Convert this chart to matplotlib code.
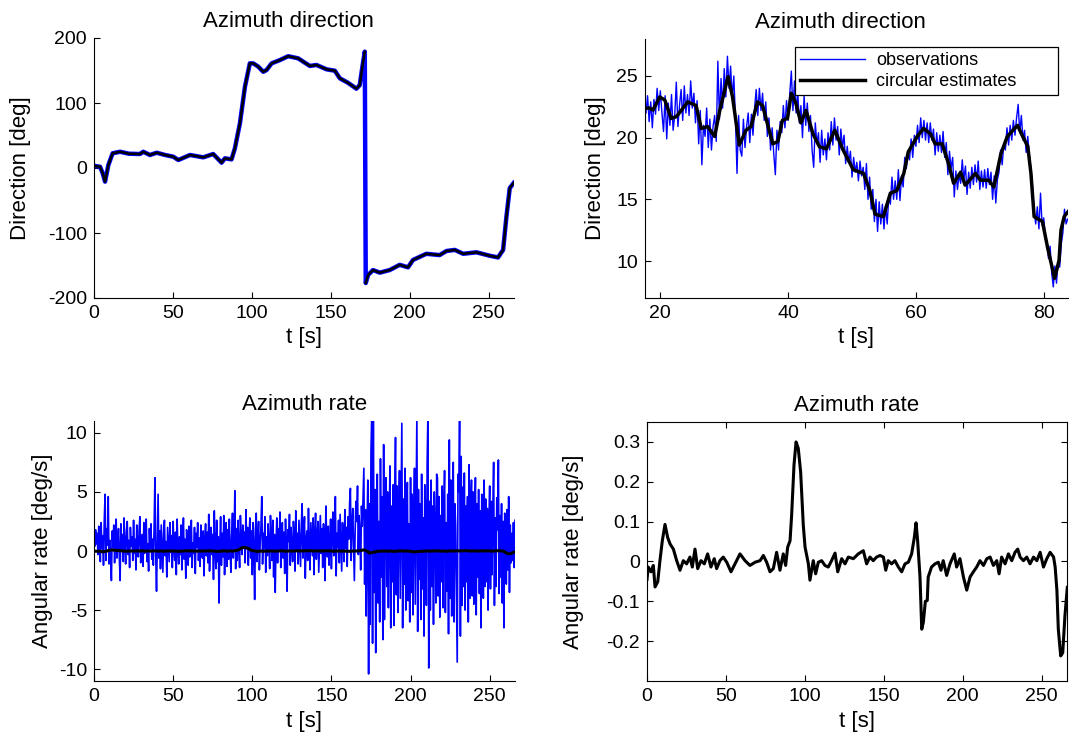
import numpy as np
import matplotlib
matplotlib.use("Agg")
import matplotlib.pyplot as plt

plt.rcParams['font.family'] = ['Liberation Sans', 'DejaVu Sans']
plt.rcParams['axes.unicode_minus'] = False

# ---------------- data ----------------
# Full azimuth direction (deg) vs time (s)
dir_t = [0.0, 0.6, 3.8, 5.5, 7.0, 9.1, 11.8, 16.5, 22.0, 29.1, 31.2, 35.4, 39.7, 45.0, 50.2, 53.4,
         60.8, 69.2, 75.5, 80.8, 82.9, 87.1, 89.2, 92.4, 95.6, 98.7, 100.8, 104.0, 107.2, 109.3,
         112.5, 117.7, 123.0, 129.3, 136.7, 140.9, 147.3, 152.5, 155.7, 160.9, 166.2, 168.3, 170.0,
         171.5, 172.1, 173.6, 176.7, 181.0, 187.3, 193.6, 198.9, 202.0, 210.5, 218.9, 223.2, 228.5,
         233.8, 242.2, 250.6, 255.9, 259.1, 261.2, 263.3, 265.8]
dir_val = [4, 3, 2, -8, -21, 4.6, 22.6, 25, 22, 21.5, 25, 20, 23.5, 20, 17.4, 12.3,
           20, 16.4, 21.5, 8.2, 14.9, 13.3, 30, 68.5, 125, 161, 161, 156, 148, 150.8,
           161, 166, 172, 168.7, 157, 158.5, 151.8, 149.7, 138, 131, 122, 127.5, 156,
           179, -177, -164.6, -157, -161, -157, -149, -152.8, -141.5, -132, -134, -127.7, -126,
           -132, -129.7, -135, -137.6, -126, -75, -31, -23]

# Zoomed direction: circular estimates (deg)
est_t = [17.6, 18.3, 18.86, 19.9, 20.7, 21.7, 22.5, 24.3, 25.6, 26.4, 27.4, 28.5, 29.3, 30.6, 31.3,
         32.35, 33.4, 34.2, 35.2, 36.0, 37.6, 38.4, 39.1, 39.9, 40.5, 41.2, 42.0, 42.8, 43.9, 44.9,
         46.0, 47.3, 48.6, 50.2, 51.8, 52.8, 53.6, 54.9, 56.0, 57.0, 58.1, 58.8, 60.2, 61.2, 62.3,
         63.0, 64.1, 65.1, 65.9, 67.0, 67.7, 69.3, 70.1, 71.4, 72.2, 73.3, 74.3, 75.9, 76.7, 77.5,
         78.0, 78.5, 79.8, 80.6, 81.7, 82.4, 82.7, 83.2, 83.8]
est_val = [22.4, 22.4, 22.24, 23.3, 23.05, 21.56, 21.7, 22.9, 22.6, 20.75, 20.9, 20.1, 22.2, 24.95, 23.3,
           19.4, 20.6, 20.9, 22.9, 22.6, 19.5, 19.7, 21.4, 21.56, 23.6, 22.8, 21.2, 22.2, 20.3, 19.26,
           19.1, 20.6, 19.0, 17.4, 17.1, 15.7, 13.8, 13.6, 15.5, 15.7, 17.1, 18.85, 20.1, 20.75, 20.3,
           19.5, 19.5, 17.9, 16.3, 17.2, 16.15, 17.1, 16.55, 16.55, 16.0, 18.7, 20.1, 21.0, 20.1, 19.3,
           17.1, 13.6, 13.2, 11.1, 8.6, 10.05, 12.5, 13.6, 14.0]

# Zoomed direction: observations (deg), every 0.25 s from 17.75 s
obs_t0 = 17.75
obs_dt = 0.25
obs_val = [22.0,
    23.4, 21.3, 22.9, 20.8, 23.1, 21.9, 24.0, 22.2, 23.8, 22.0, 20.5, 23.4, 19.9, 22.8, 21.0, 23.5,
    20.6, 21.8, 24.5, 20.9, 22.6, 23.9, 21.4, 24.2, 22.0, 23.5, 21.8, 24.6, 22.4, 23.6, 21.2, 23.0,
    19.5, 22.2, 17.8, 21.0, 20.1, 22.4, 19.2, 21.5, 19.0, 20.9, 21.8, 19.7, 26.2, 21.5, 24.8, 22.4,
    25.6, 23.3, 26.6, 24.0, 25.8, 23.2, 25.0, 21.6, 17.1, 21.8, 19.0, 18.5, 21.5, 19.2, 20.9, 22.0,
    19.6, 21.9, 20.2, 22.4, 23.9, 21.8, 24.0, 22.2, 23.6, 21.4, 22.9, 20.1, 21.6, 19.0, 20.8, 18.7,
    17.0, 20.6, 19.0, 21.3, 20.4, 22.6, 20.8, 23.0, 21.4, 23.5, 25.4, 22.2, 24.6, 22.0, 23.8, 21.2,
    22.6, 20.0, 23.4, 21.0, 22.8, 20.5, 21.8, 19.0, 17.6, 21.2, 19.5, 20.4, 18.0, 20.6, 18.6, 19.9,
    18.2, 20.4, 19.0, 21.3, 19.4, 21.6, 19.8, 20.9, 18.6, 20.7, 19.2, 20.2, 17.9, 19.3, 18.0, 18.9,
    16.8, 18.4, 17.2, 18.0, 16.5, 18.1, 16.9, 17.6, 15.8, 17.9, 15.0, 16.8, 14.2, 15.8, 13.2, 15.0,
    12.4, 14.8, 13.0, 14.6, 12.6, 14.5, 13.0, 15.2, 14.6, 16.8, 15.0, 16.5, 15.0, 17.4, 14.9, 16.9,
    16.0, 18.4, 17.5, 18.8, 18.2, 19.9, 18.4, 20.2, 19.3, 21.0, 19.6, 21.6, 20.0, 21.4, 19.8, 21.2,
    19.6, 21.2, 19.8, 20.7, 18.6, 20.4, 18.9, 20.2, 18.8, 20.5, 18.4, 19.6, 17.0, 18.9, 17.5, 18.4,
    15.2, 17.3, 15.8, 17.0, 16.3, 18.2, 16.6, 17.7, 15.4, 17.2, 15.9, 17.6, 16.2, 17.8, 16.4, 18.1,
    15.8, 17.3, 16.0, 17.4, 15.9, 17.5, 16.2, 17.2, 15.0, 16.9, 14.7, 16.6, 17.2, 19.0, 17.8, 19.5,
    19.0, 20.8, 19.4, 21.0, 19.8, 21.4, 20.2, 21.6, 22.7, 20.4, 21.8, 19.8, 20.6, 18.8, 20.1, 18.6,
    17.5, 16.0, 14.0, 13.0, 14.4, 12.6, 15.5, 12.9, 13.5, 12.0, 11.5, 10.2, 11.2, 9.0, 7.9, 9.6,
    8.2, 10.0, 9.5, 11.4, 12.3, 14.2, 13.0, 13.4]

# Angular rate observations (deg/s), every 0.5 s from 0 s
rate_obs_dt = 0.5
rate_obs = [
    1.2, 0.4, 1.8, 0.6, 1.5, -0.3, 2.1, 0.8, -0.9, 2.4, 0.2, 1.3, -1.2, 2.6, 4.8, -0.8, 1.9, 0.5, 4.6, -1.1,
    0.9, -0.4, -2.5, 1.7, 0.3, 2.2, -1.0, 1.1, 2.7, -0.6, 0.8, 1.9, -0.5, -2.5, 2.3, 0.1, 1.4, -0.9, 2.8, 0.6,
    -1.1, 1.6, 2.5, -0.3, 0.9, -1.4, 2.0, 0.4, 1.2, -0.8, 2.6, -0.2, 1.0, -1.6, 2.2, 0.7, -0.5, 1.8, 2.9, -1.0,
    0.5, 1.4, -1.3, 2.4, -0.2, 1.1, 2.7, -0.9, 0.6, -1.7, 1.9, 0.2, 2.3, -0.7, 1.0, -1.2, 2.1, 6.2, -0.4, -3.4,
    1.0, 4.8, -0.6, 1.7, -1.5, 2.2, 0.3, -1.8, 1.5, 2.6, -0.4, 0.8, -2.2, 2.0, 0.5, -0.9, 2.4, -0.1, 1.3, -1.4,
    2.5, 0.2, -0.8, 1.6, -2.0, 2.7, 0.4, -1.1, 1.2, -0.3, 2.2, -1.6, 0.9, 2.8, -0.7, 1.0, -2.3, 1.8, 0.6, -1.2,
    2.1, -0.5, 1.3, 2.6, -1.4, 0.7, -0.2, 2.0, -1.9, 1.5, 0.3, 2.4, -0.8, 1.1, -1.3, 2.2, 0.5, -0.6, 1.7, -2.1,
    1.0, 2.3, -0.4, 1.6, -1.0, 3.1, -1.7, 0.8, 2.0, -0.3, 1.4, -2.4, 3.4, 0.1, -1.5, 2.6, -0.9, 1.2, -4.4, 0.6,
    2.9, -1.2, 1.5, -0.5, 3.0, -2.0, 0.9, 2.4, -1.3, 1.8, -0.7, 2.7, 0.2, -1.8, 1.3, 3.2, -0.6, 1.0, 5.1, -1.5,
    1.9, -0.8, 2.6, 0.4, -1.4, 3.0, 1.1, -0.3, 2.2, 0.5, 1.6, -1.0, 3.5, 0.2, 2.0, -1.2, 1.3, 2.8, -0.6, 1.7,
    -2.0, 2.4, 0.3, -4.1, 1.8, 3.2, -0.9, 1.0, 2.5, -1.6, 0.7, 2.1, 4.6, -1.1, 1.5, 0.2, 2.9, -1.8, 1.2, -0.4,
    2.3, 0.6, -1.5, 3.0, 0.9, -0.8, 2.6, -2.2, 1.4, -3.5, 0.5, 2.8, -1.0, 1.9, 0.1, 3.3, -1.4, 1.1, 2.4, -0.6,
    1.6, -1.9, 2.7, 0.3, -3.4, 1.8, 0.8, 3.1, -1.2, 2.0, 0.4, -0.9, 2.5, 1.2, -1.7, 3.4, 0.0, 1.5, -1.1, 2.6,
    0.7, -1.3, 2.2, 4.0, -0.6, 1.4, 2.9, -2.3, 0.9, 1.7, -0.8, 3.6, 0.5, -1.6, 2.4, 1.0, -0.4, 2.8, -2.0, 1.3,
    3.2, -0.7, 1.1, 2.5, -1.8, 0.6, 3.0, -0.2, 1.9, -1.4, 2.3, 0.8, -2.5, 3.8, 1.2, -0.5, 2.1, -1.2, 0.9, 2.7,
    -1.5, 1.8, 3.3, -0.4, 1.0, 4.6, -2.1, 1.5, 0.3, 2.6, -1.0, 3.1, 0.6, -1.7, 2.4, 1.1, -0.9, 3.5, 0.2, 2.0,
    -1.3, 2.9, 1.0, 4.0, 5.3, -0.8, 2.2, 3.6, 0.4, -2.5, 1.7, 4.2, 2.5, 5.5, -0.3, 3.0, 1.4, -1.6, 3.8, 2.1,
    4.5, 7.0, -2.8, 3.5, -5.5, 2.0, 6.0, -10.4, 4.0, -6.2, 8.5, 11.5, -7.8, 12.0, -3.5, 5.2, -8.6, 3.0, 6.5, -4.4,
    2.5, -6.0, 7.8, -2.2, 4.6, -7.5, 9.0, -5.8, 3.4, 6.2, -3.0, 5.0, -4.8, 2.0, 7.2, -6.5, 3.8, -2.6, 5.6, -6.3,
    4.2, 9.6, -3.7, 5.5, -5.2, 2.7, 6.8, -4.0, 3.5, 10.8, -6.5, 4.4, -2.8, 7.0, -5.0, 3.2, 5.8, -4.2, 2.3, -6.0,
    6.2, -3.5, 4.8, -5.4, 2.6, 7.0, -4.5, 3.0, 11.5, -6.8, 5.2, -2.4, 4.0, -5.8, 6.5, -3.2, 2.8, -7.2, 5.6, 3.4,
    -4.6, 7.5, 12.0, -9.9, 4.2, -5.0, 6.0, -3.0, 3.8, -6.2, 5.0, 2.0, -4.4, 6.5, 6.2, -3.8, 4.6, -5.6, 3.0, -2.6,
    5.5, -4.8, 3.6, 6.8, -5.2, 2.4, -3.4, 4.8, -7.0, 9.4, -4.0, 6.0, -5.5, 3.2, 7.5, -6.0, 4.0, 2.2, -3.5, -9.4,
    6.5, 5.0, 12.0, -7.2, 8.0, -4.6, 5.4, -3.0, 6.6, -5.0, 3.8, -2.6, 4.6, -6.0, 7.3, -4.0, 3.0, 6.0, -3.8, 5.0,
    -4.5, 2.8, 6.2, -5.4, 4.0, -2.2, 5.2, -3.6, 3.4, -6.5, 4.8, 2.0, -4.0, 6.0, -3.0, 4.4, -2.6, 3.6, -5.0, 2.4,
    5.5, -3.2, 4.2, -2.0, 3.5, 7.5, -4.6, 2.8, -3.0, 4.5, 1.8, 7.7, -3.6, 3.0, -2.2, 4.0, -4.4, 2.5, -6.5, 3.2,
    2.0, -2.8, 3.5, -1.6, 4.6, -3.5, 2.2, -1.0, 1.5, -0.8, 2.4, -1.4, 2.6]

# Angular rate estimates (deg/s)
rate_t = [0.0, 0.8, 2.5, 4.0, 5.1, 6.8, 8.2, 9.7, 11.4, 13.1, 14.6, 16.7, 18.8, 20.9, 23.0, 25.1,
          27.2, 28.7, 30.4, 32.1, 34.2, 36.3, 38.4, 40.5, 42.6, 44.1, 46.2, 48.3, 50.5, 53.2, 55.7,
          58.9, 62.1, 65.2, 68.4, 71.6, 73.7, 75.8, 77.9, 80.0, 82.1, 84.2, 86.3, 87.8, 89.1, 90.6,
          91.6, 93.1, 94.4, 95.8, 97.3, 99.0, 100.1, 102.2, 103.2, 105.3, 106.8, 108.5, 110.6, 112.7,
          114.8, 116.9, 119.1, 120.8, 123.3, 125.4, 127.5, 130.7, 133.8, 137.0, 139.1, 141.2, 143.3,
          145.4, 147.6, 149.7, 151.2, 152.8, 154.9, 157.0, 159.2, 161.3, 163.4, 165.5, 167.6, 169.3,
          170.4, 171.4, 172.9, 174.0, 175.0, 176.3, 177.5, 178.1, 180.2, 182.4, 184.5, 186.2, 187.6,
          189.8, 191.9, 194.6, 196.1, 198.2, 200.4, 202.5, 204.6, 206.7, 208.8, 210.9, 213.1, 215.2,
          217.3, 219.4, 221.5, 223.0, 224.6, 226.8, 228.9, 231.0, 233.1, 234.8, 236.3, 238.4, 240.5,
          242.6, 244.8, 246.9, 249.0, 251.1, 253.2, 255.3, 257.5, 258.5, 259.6, 260.5, 262.0, 263.3,
          264.7, 266.2]
rate_val = [-0.045, -0.014, -0.026, -0.010, -0.064, -0.051, 0.002, 0.052, 0.093, 0.060, 0.044, 0.031,
            0.002, -0.022, 0.002, -0.006, 0.011, -0.014, 0.031, -0.018, 0.002, -0.006, 0.019, -0.014,
            0.007, -0.018, 0.002, 0.011, -0.002, -0.026, -0.006, 0.019, 0.002, -0.010, -0.002, 0.002,
            0.015, -0.002, -0.026, -0.018, 0.023, -0.022, 0.019, -0.010, 0.036, 0.052, 0.116, 0.242,
            0.300, 0.284, 0.225, 0.090, 0.036, -0.006, -0.047, 0.002, -0.031, -0.002, 0.002, -0.010,
            -0.014, 0.002, 0.021, -0.026, 0.007, -0.006, 0.011, 0.007, 0.019, 0.027, -0.006, 0.011,
            0.002, 0.011, 0.015, 0.011, -0.022, 0.002, -0.006, 0.002, -0.014, -0.026, -0.006, -0.002,
            0.019, 0.060, 0.097, 0.052, -0.039, -0.170, -0.153, -0.100, -0.098, -0.039, -0.014, -0.006,
            -0.002, -0.022, 0.002, -0.035, -0.006, 0.019, -0.014, 0.007, -0.039, -0.072, -0.039, -0.026,
            -0.014, 0.002, -0.010, 0.007, 0.011, -0.010, 0.002, -0.031, 0.011, -0.006, 0.019, 0.002,
            0.023, 0.031, 0.011, 0.002, 0.011, -0.006, 0.011, 0.002, 0.023, -0.014, 0.007, 0.023, 0.011,
            -0.014, -0.072, -0.170, -0.237, -0.229, -0.136, -0.065]

# ---------------- drawing ----------------
BLUE = (0.0, 0.0, 1.0)
TICK_FS = 14
LAB_FS = 16

fig = plt.figure(figsize=(10.69, 7.38), dpi=100)
W, H = 1069.0, 738.0

def make_ax(l, t, r, b):
    return fig.add_axes([l / W, 1 - b / H, (r - l) / W, (b - t) / H])

def style(ax, box=False):
    for s in ['top', 'right']:
        ax.spines[s].set_visible(box)
    for s in ax.spines.values():
        s.set_linewidth(0.8)
    ax.tick_params(direction='in', length=4, width=0.8, labelsize=TICK_FS,
                   top=box, right=box, pad=5)

# Top-left
ax1 = make_ax(94, 38, 514, 298)
dt = np.asarray(dir_t)
dv = np.asarray(dir_val)
ax1.plot(dt, dv, color=BLUE, lw=3.2)
jump = np.where(np.diff(dv) < -180)[0]
dt_b = np.insert(dt, jump + 1, np.nan)
dv_b = np.insert(dv, jump + 1, np.nan)
ax1.plot(dt_b, dv_b, color='black', lw=1.8)
ax1.set_xlim(0, 266)
ax1.set_ylim(-200, 200)
ax1.set_yticks([-200, -100, 0, 100, 200])
ax1.set_xticks([0, 50, 100, 150, 200, 250])
ax1.set_title('Azimuth direction', fontsize=LAB_FS, pad=8, x=0.464)
ax1.set_xlabel('t [s]', fontsize=LAB_FS)
ax1.set_ylabel('Direction [deg]', fontsize=LAB_FS, labelpad=12)
style(ax1)

# Top-right
ax2 = make_ax(645, 39, 1068, 298)
ot = obs_t0 + obs_dt * np.arange(len(obs_val))
ax2.plot(ot, obs_val, color=BLUE, lw=1.0, label='observations')
ax2.plot(est_t, est_val, color='black', lw=2.5, label='circular estimates')
ax2.set_xlim(17.6, 83.8)
ax2.set_ylim(7, 28)
ax2.set_yticks([10, 15, 20, 25])
ax2.set_xticks([20, 40, 60, 80])
ax2.set_title('Azimuth direction', fontsize=LAB_FS, pad=8, x=0.463)
ax2.set_xlabel('t [s]', fontsize=LAB_FS)
ax2.set_ylabel('Direction [deg]', fontsize=LAB_FS, labelpad=7.5)
style(ax2)
leg = ax2.legend(loc='upper left', bbox_to_anchor=(0.3546, 0.780, 0.6217, 0.189), mode='expand',
                 fontsize=13, frameon=True, fancybox=False, shadow=False, framealpha=1,
                 edgecolor='black', handlelength=3.6, borderpad=0.3, labelspacing=0.2,
                 handletextpad=0.6, borderaxespad=0)
leg.get_frame().set_linewidth(0.9)

# Bottom-left
ax3 = make_ax(94, 421, 515, 681)
rt = rate_obs_dt * np.arange(len(rate_obs))
ax3.plot(rt, rate_obs, color=BLUE, lw=1.2)
ax3.plot(rate_t, rate_val, color='black', lw=2.2)
ax3.set_xlim(0, 266)
ax3.set_ylim(-11, 11)
ax3.set_yticks([-10, -5, 0, 5, 10])
ax3.set_xticks([0, 50, 100, 150, 200, 250])
ax3.set_title('Azimuth rate', fontsize=LAB_FS, pad=8)
ax3.set_xlabel('t [s]', fontsize=LAB_FS)
ax3.set_ylabel('Angular rate [deg/s]', fontsize=LAB_FS, labelpad=4)
style(ax3)

# Bottom-right
ax4 = make_ax(647, 422, 1067, 681)
ax4.plot(rate_t, rate_val, color='black', lw=2.2)
ax4.set_xlim(0, 266)
ax4.set_ylim(-0.3, 0.35)
ax4.set_yticks([-0.2, -0.1, 0, 0.1, 0.2, 0.3])
ax4.set_yticklabels(['-0.2', '-0.1', '0', '0.1', '0.2', '0.3'])
ax4.set_xticks([0, 50, 100, 150, 200, 250])
ax4.set_title('Azimuth rate', fontsize=LAB_FS, pad=8)
ax4.set_xlabel('t [s]', fontsize=LAB_FS)
ax4.set_ylabel('Angular rate [deg/s]', fontsize=LAB_FS, labelpad=16)
style(ax4, box=True)

fig.savefig('out.png', dpi=100)
